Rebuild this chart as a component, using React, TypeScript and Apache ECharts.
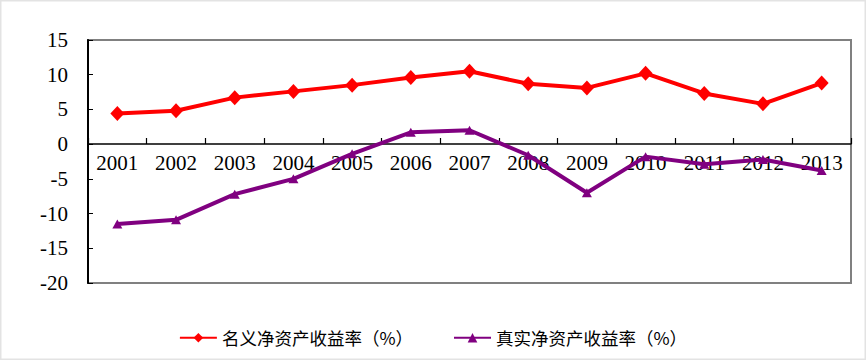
import React, { useEffect, useRef } from "react";
import * as echarts from "echarts";

const years = ["2001", "2002", "2003", "2004", "2005", "2006", "2007", "2008", "2009", "2010", "2011", "2012", "2013"];
const nominalROE = [4.4, 4.8, 6.7, 7.6, 8.5, 9.6, 10.5, 8.7, 8.1, 10.2, 7.3, 5.8, 8.8];
const realROE = [-11.5, -10.9, -7.2, -5.0, -1.4, 1.7, 2.0, -1.6, -7.0, -1.8, -2.9, -2.2, -3.8];
const nominalName = "名义净资产收益率（%）";
const realName = "真实净资产收益率（%）";

const SERIF = "'Liberation Serif', 'Times New Roman', serif";

export default function App() {
  const ref = useRef<HTMLDivElement>(null);
  useEffect(() => {
    if (!ref.current) return;
    const chart = echarts.init(ref.current, undefined, { renderer: "svg" });
    chart.setOption({
      animation: false,
      backgroundColor: "#ffffff",
      graphic: [
        {
          type: "rect",
          shape: { x: 0.5, y: 0.5, width: 865, height: 359 },
          style: { fill: "none", stroke: "#e3e3e3", lineWidth: 2 },
          silent: true,
        },
      ],
      legend: {
        top: 324,
        left: "center",
        itemWidth: 37,
        itemHeight: 12,
        itemGap: 40,
        textStyle: { fontFamily: "'Noto Sans CJK SC'", fontSize: 17.5, color: "#000" },
        data: [nominalName, realName],
      },
      grid: { left: 88, right: 15, top: 40, bottom: 77, show: true, borderColor: "#808080", borderWidth: 2, backgroundColor: "transparent" },
      xAxis: {
        type: "category",
        data: years,
        boundaryGap: true,
        position: "bottom",
        offset: -139,
        axisLine: { onZero: false, lineStyle: { color: "#000", width: 1.5 } },
        axisTick: { show: true, inside: true, length: 6, lineStyle: { color: "#000", width: 1.2 } },
        axisLabel: { fontFamily: SERIF, fontSize: 21, color: "#000", margin: 8, interval: 0 },
        splitLine: { show: false },
      },
      yAxis: {
        type: "value",
        min: -20,
        max: 15,
        interval: 5,
        axisLine: { show: true, lineStyle: { color: "#000", width: 2 } },
        axisTick: { show: true, inside: true, length: 5, lineStyle: { color: "#000" } },
        axisLabel: { fontFamily: SERIF, fontSize: 21, color: "#000", margin: 20 },
        splitLine: { show: false },
      },
      series: [
        {
          name: nominalName,
          type: "line",
          data: nominalROE,
          symbol: "diamond",
          symbolSize: [14, 15],
          lineStyle: { color: "#ff0000", width: 4 },
          itemStyle: { color: "#ff0000" },
          z: 3,
        },
        {
          name: realName,
          type: "line",
          data: realROE,
          symbol: "triangle",
          symbolSize: [10, 9],
          lineStyle: { color: "#800080", width: 4 },
          itemStyle: { color: "#800080" },
          z: 3,
        },
      ],
    });
    return () => chart.dispose();
  }, []);
  return <div ref={ref} style={{ position: "fixed", left: 0, top: 0, width: 866, height: 360 }} />;
}
